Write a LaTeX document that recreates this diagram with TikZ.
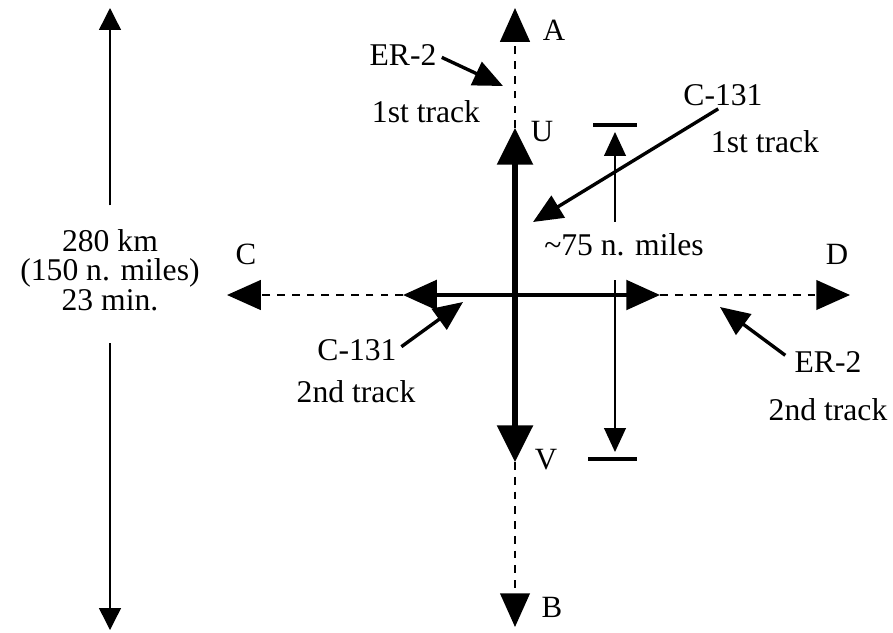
\documentclass[tikz,border=0pt]{standalone}
\usepackage{fontspec}
\setmainfont{Liberation Serif}
\usetikzlibrary{arrows.meta}
\definecolor{ink}{HTML}{000000}
\tikzset{
  every node/.style={text=ink},
  lbl/.style={font=\fontsize{22.5}{27}\selectfont, inner sep=0pt},
  letter/.style={font=\fontsize{22}{26}\selectfont, inner sep=0pt},
  dim/.style={font=\fontsize{22.5}{20.8}\selectfont, align=center, inner sep=0pt},
  outerTrack/.style={draw=ink, line width=1.8pt, dash pattern=on 5.5pt off 5pt,
    -{Triangle[length=24pt, width=21pt]}},
  innerTrack/.style={draw=ink, line width=2.6pt,
    {Triangle[length=24pt, width=21pt]}-{Triangle[length=24pt, width=21pt]}},
  mainTrack/.style={draw=ink, line width=3.6pt,
    {Triangle[length=26pt, width=25pt]}-{Triangle[length=26pt, width=25pt]}},
  pointer/.style={draw=ink, line width=2.4pt, shorten <=4pt,
    -{Triangle[length=21pt, width=18pt]}},
  measure/.style={draw=ink, line width=1pt, -{Triangle[length=17pt, width=15.5pt]}},
  span/.style={draw=ink, line width=1pt, -{Triangle[length=15.5pt, width=15.5pt]}},
  bar/.style={draw=ink, line width=2.2pt},
}

\begin{document}
\begin{tikzpicture}[x=0.025cm, y=-0.025cm]
  \useasboundingbox (0,0) rectangle (893,632);

  % ---------------------------------------------------------------- track ends
  \coordinate (aTip) at (515,8);
  \coordinate (uTip) at (515,128);
  \coordinate (vTip) at (515,462);
  \coordinate (bTip) at (515,627);
  \coordinate (cTip) at (227,295);
  \coordinate (leftTip) at (403,295);
  \coordinate (rightTip) at (660,295);
  \coordinate (dTip) at (850,295);

  \node[letter] (a) at (554,30) {A};
  \node[letter] (u) at (542,132) {U};
  \node[letter] (v) at (546,460) {V};
  \node[letter] (b) at (552,607) {B};
  \node[letter] (c) at (246,254) {C};
  \node[letter] (d) at (837,254) {D};

  % ---------------------------------------------------------------- tracks
  \draw[outerTrack] (uTip) -- (aTip);
  \draw[outerTrack] (vTip) -- (bTip);
  \draw[outerTrack] (leftTip) -- (cTip);
  \draw[outerTrack] (rightTip) -- (dTip);
  \draw[innerTrack] (rightTip) -- (leftTip);
  \draw[mainTrack] (vTip) -- (uTip);

  % ---------------------------------------------------------------- aircraft
  \node[lbl] (er2One) at (403,55) {ER-2};
  \node[lbl] (er2OneTrack) at (426,112) {1st track};
  \coordinate (er2OneTip) at (503,86);
  \draw[pointer] (er2One.east) -- (er2OneTip);

  \node[lbl] (c131One) at (723,95) {C-131};
  \node[lbl] (c131OneTrack) at (765,142) {1st track};
  \coordinate (c131OneTip) at (533,222);
  \draw[pointer] (c131One.south) -- (c131OneTip);

  \node[lbl] (c131Two) at (357,350) {C-131};
  \node[lbl] (c131TwoTrack) at (356,392) {2nd track};
  \coordinate (c131TwoTip) at (463,302);
  \draw[pointer] (c131Two.east) -- (c131TwoTip);

  \node[lbl] (er2Two) at (828,362) {ER-2};
  \node[lbl] (er2TwoTrack) at (828,410) {2nd track};
  \coordinate (er2TwoTip) at (720,307);
  \draw[pointer, shorten <=8pt] (er2Two.west) -- (er2TwoTip);

  % ---------------------------------------------------------------- distances
  \coordinate (topStop) at (615,132);
  \coordinate (bottomStop) at (615,452);
  \draw[bar] (593,125) -- (637,125);
  \draw[bar] (588,459) -- (637,459);
  \node[lbl] (miles) at (624,245) {\textasciitilde75 n. miles};
  \draw[measure, shorten <=8.5pt] (miles.north -| topStop) -- (topStop);
  \draw[measure, shorten <=17pt] (miles.south -| bottomStop) -- (bottomStop);

  \coordinate (spanTop) at (110,8);
  \coordinate (spanBottom) at (110,630);
  \node[dim] (leftSpan) at (110,270) {280 km\\(150 n. miles)\\23 min.};
  \draw[span, shorten <=17pt] (leftSpan.north) -- (spanTop);
  \draw[span, shorten <=23pt] (leftSpan.south) -- (spanBottom);

\end{tikzpicture}
\end{document}
